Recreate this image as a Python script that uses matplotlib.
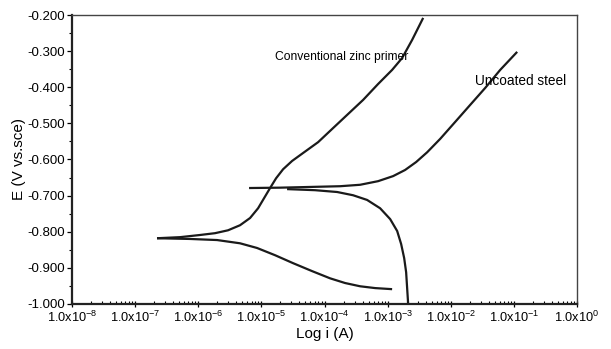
import math
import matplotlib
matplotlib.use("Agg")
import matplotlib.pyplot as plt
from matplotlib.ticker import FixedLocator, LogLocator, NullFormatter, FuncFormatter

plt.rcParams["font.family"] = ["Liberation Sans", "DejaVu Sans"]
plt.rcParams["mathtext.fontset"] = "custom"
plt.rcParams["mathtext.rm"] = "Liberation Sans"
plt.rcParams["mathtext.it"] = "Liberation Sans"

# curves as log10(i / A) and E (V vs SCE)
# conventional zinc primer
zinc_anodic_logi = [-6.653, -6.288, -5.971, -5.734, -5.528, -5.338, -5.179, -5.052,
                    -4.957, -4.862, -4.767, -4.656, -4.513, -4.339, -4.101, -3.864,
                    -3.626, -3.388, -3.151, -2.929, -2.770, -2.612, -2.437]
zinc_anodic_e = [-0.818, -0.815, -0.809, -0.804, -0.796, -0.782, -0.762, -0.735,
                 -0.707, -0.679, -0.652, -0.627, -0.604, -0.582, -0.552, -0.513,
                 -0.474, -0.435, -0.391, -0.352, -0.319, -0.269, -0.208]
zinc_cathodic_logi = [-6.653, -6.130, -5.702, -5.338, -5.068, -4.783, -4.498,
                      -4.197, -3.911, -3.674, -3.436, -3.198, -2.929]
zinc_cathodic_e = [-0.818, -0.820, -0.823, -0.832, -0.845, -0.865, -0.887,
                   -0.909, -0.929, -0.942, -0.951, -0.956, -0.959]

# uncoated steel
steel_anodic_logi = [-5.195, -4.704, -4.228, -3.753, -3.436, -3.151, -2.913, -2.723,
                     -2.548, -2.374, -2.168, -1.930, -1.693, -1.455, -1.217, -0.948]
steel_anodic_e = [-0.679, -0.678, -0.676, -0.674, -0.670, -0.660, -0.646, -0.629,
                  -0.607, -0.580, -0.543, -0.496, -0.449, -0.402, -0.352, -0.302]
steel_cathodic_logi = [-4.593, -4.149, -3.800, -3.547, -3.325, -3.119, -2.960,
                       -2.849, -2.786, -2.738, -2.707, -2.691, -2.675]
steel_cathodic_e = [-0.682, -0.685, -0.690, -0.699, -0.712, -0.735, -0.765,
                    -0.798, -0.834, -0.873, -0.912, -0.956, -1.000]

x_decades = [-8, -7, -6, -5, -4, -3, -2, -1, 0]
y_ticks = [-1.0, -0.9, -0.8, -0.7, -0.6, -0.5, -0.4, -0.3, -0.2]

fig = plt.figure(figsize=(6.11, 3.49), dpi=100)
ax = fig.add_axes([0.1178, 0.129, 0.8266, 0.828])

curves = [(zinc_anodic_logi, zinc_anodic_e), (zinc_cathodic_logi, zinc_cathodic_e),
          (steel_anodic_logi, steel_anodic_e), (steel_cathodic_logi, steel_cathodic_e)]
for logi, e in curves:
    ax.plot([10.0 ** v for v in logi], e, color="#1a1a1a", lw=1.6,
            solid_joinstyle="round", solid_capstyle="butt")

ax.set_xscale("log")
ax.set_xlim(1e-8, 1)
ax.set_ylim(-1.0, -0.2)

ax.xaxis.set_major_locator(FixedLocator([10.0 ** d for d in x_decades]))
ax.xaxis.set_major_formatter(FuncFormatter(
    lambda v, p: r"1.0x10$^{%d}$" % round(math.log10(v))))
ax.xaxis.set_minor_locator(LogLocator(base=10, subs=range(2, 10), numticks=20))
ax.xaxis.set_minor_formatter(NullFormatter())
ax.yaxis.set_major_locator(FixedLocator(y_ticks))
ax.yaxis.set_major_formatter(FuncFormatter(lambda v, p: "%.3f" % v))
ax.yaxis.set_minor_locator(FixedLocator([t + 0.05 for t in y_ticks[:-1]]))

ax.tick_params(axis="y", which="major", labelsize=9.5, length=3.5, width=0.9, pad=1.5)
ax.tick_params(axis="x", which="major", labelsize=9.2, direction="inout", length=5,
               width=0.9, pad=2)
ax.tick_params(axis="x", which="minor", direction="in", length=2.5, width=0.8)
ax.tick_params(axis="y", which="minor", direction="out", length=2.5, width=0.8)

for side in ["left", "bottom"]:
    ax.spines[side].set_linewidth(1.6)
    ax.spines[side].set_color("#222222")
for side in ["top", "right"]:
    ax.spines[side].set_linewidth(1.0)
    ax.spines[side].set_color("#444444")

ax.set_xlabel("Log i (A)", fontsize=11, labelpad=1)
ax.set_ylabel("E (V vs.sce)", fontsize=11, labelpad=1)

ax.text(1.66e-5, -0.316, "Conventional zinc primer", fontsize=8.7, va="center", ha="left")
ax.text(2.45e-2, -0.383, "Uncoated steel", fontsize=9.8, va="center", ha="left")

fig.savefig("out.png", dpi=100)
